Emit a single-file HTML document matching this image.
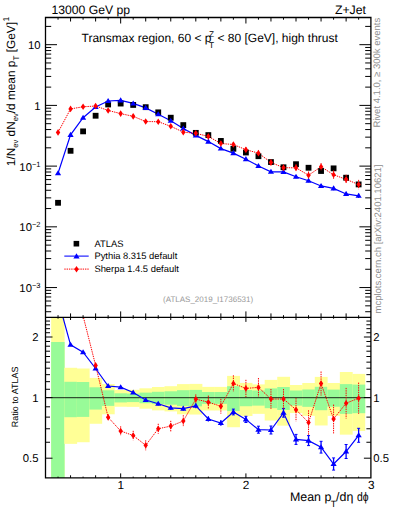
<!DOCTYPE html><html><head><meta charset="utf-8"><style>html,body{margin:0;padding:0;background:#fff;}svg{display:block;}text{font-family:"Liberation Sans",sans-serif;text-rendering:geometricPrecision;}</style></head><body>
<svg width="393" height="512" viewBox="0 0 393 512">
<defs><clipPath id="cm"><rect x="45.50" y="17.50" width="325.40" height="299.90"/></clipPath>
<clipPath id="cr"><rect x="45.50" y="317.40" width="325.40" height="160.50"/></clipPath></defs>
<g clip-path="url(#cr)">
<rect x="51.15" y="312.40" width="13.45" height="170.50" fill="#ffff96"/>
<rect x="51.15" y="342.00" width="13.45" height="140.90" fill="#98fb98"/>
<rect x="64.30" y="367.80" width="12.83" height="76.06" fill="#ffff96"/>
<rect x="64.30" y="381.80" width="12.83" height="35.40" fill="#98fb98"/>
<rect x="76.83" y="368.50" width="12.82" height="73.73" fill="#ffff96"/>
<rect x="76.83" y="382.00" width="12.82" height="34.90" fill="#98fb98"/>
<rect x="89.35" y="377.90" width="12.82" height="45.87" fill="#ffff96"/>
<rect x="89.35" y="387.30" width="12.82" height="22.28" fill="#98fb98"/>
<rect x="101.87" y="384.10" width="12.83" height="30.17" fill="#ffff96"/>
<rect x="101.87" y="390.30" width="12.83" height="15.57" fill="#98fb98"/>
<rect x="114.40" y="389.90" width="12.83" height="16.84" fill="#ffff96"/>
<rect x="114.40" y="393.30" width="12.83" height="9.12" fill="#98fb98"/>
<rect x="126.92" y="389.80" width="12.83" height="17.06" fill="#ffff96"/>
<rect x="126.92" y="393.60" width="12.83" height="8.49" fill="#98fb98"/>
<rect x="139.45" y="388.30" width="12.83" height="20.41" fill="#ffff96"/>
<rect x="139.45" y="392.60" width="12.83" height="10.60" fill="#98fb98"/>
<rect x="151.97" y="387.00" width="12.83" height="23.36" fill="#ffff96"/>
<rect x="151.97" y="391.80" width="12.83" height="12.31" fill="#98fb98"/>
<rect x="164.50" y="386.20" width="12.83" height="25.21" fill="#ffff96"/>
<rect x="164.50" y="391.30" width="12.83" height="13.39" fill="#98fb98"/>
<rect x="177.02" y="384.10" width="12.83" height="30.17" fill="#ffff96"/>
<rect x="177.02" y="390.20" width="12.83" height="15.78" fill="#98fb98"/>
<rect x="189.55" y="383.90" width="12.83" height="30.65" fill="#ffff96"/>
<rect x="189.55" y="389.90" width="12.83" height="16.44" fill="#98fb98"/>
<rect x="202.07" y="386.90" width="12.83" height="23.59" fill="#ffff96"/>
<rect x="202.07" y="392.00" width="12.83" height="11.88" fill="#98fb98"/>
<rect x="214.60" y="386.90" width="12.83" height="23.59" fill="#ffff96"/>
<rect x="214.60" y="392.00" width="12.83" height="11.88" fill="#98fb98"/>
<rect x="227.12" y="375.90" width="12.83" height="51.33" fill="#ffff96"/>
<rect x="227.12" y="386.20" width="12.83" height="24.81" fill="#98fb98"/>
<rect x="239.65" y="382.90" width="12.83" height="33.08" fill="#ffff96"/>
<rect x="239.65" y="390.00" width="12.83" height="16.22" fill="#98fb98"/>
<rect x="252.17" y="384.40" width="12.83" height="29.45" fill="#ffff96"/>
<rect x="252.17" y="390.50" width="12.83" height="15.13" fill="#98fb98"/>
<rect x="264.70" y="379.90" width="12.83" height="40.62" fill="#ffff96"/>
<rect x="264.70" y="388.40" width="12.83" height="19.78" fill="#98fb98"/>
<rect x="277.23" y="376.80" width="12.82" height="48.85" fill="#ffff96"/>
<rect x="277.23" y="387.00" width="12.82" height="22.96" fill="#98fb98"/>
<rect x="289.75" y="385.00" width="12.82" height="28.03" fill="#ffff96"/>
<rect x="289.75" y="390.50" width="12.82" height="15.13" fill="#98fb98"/>
<rect x="302.27" y="383.00" width="12.83" height="32.84" fill="#ffff96"/>
<rect x="302.27" y="389.50" width="12.83" height="17.33" fill="#98fb98"/>
<rect x="314.80" y="376.90" width="12.83" height="48.57" fill="#ffff96"/>
<rect x="314.80" y="386.80" width="12.83" height="23.42" fill="#98fb98"/>
<rect x="327.32" y="383.00" width="12.83" height="32.84" fill="#ffff96"/>
<rect x="327.32" y="389.60" width="12.83" height="17.11" fill="#98fb98"/>
<rect x="339.85" y="372.00" width="12.82" height="62.65" fill="#ffff96"/>
<rect x="339.85" y="384.10" width="12.82" height="29.77" fill="#98fb98"/>
<rect x="352.38" y="373.90" width="12.82" height="57.02" fill="#ffff96"/>
<rect x="352.38" y="384.60" width="12.82" height="28.58" fill="#98fb98"/>
</g>
<line x1="45.50" y1="397.60" x2="370.90" y2="397.60" stroke="#000" stroke-opacity="0.68" stroke-width="1.2"/>
<g><line x1="45.50" y1="311.72" x2="51.20" y2="311.72" stroke="#000" stroke-width="1.0"/><line x1="370.90" y1="311.72" x2="365.20" y2="311.72" stroke="#000" stroke-width="1.0"/><line x1="45.50" y1="305.84" x2="51.20" y2="305.84" stroke="#000" stroke-width="1.0"/><line x1="370.90" y1="305.84" x2="365.20" y2="305.84" stroke="#000" stroke-width="1.0"/><line x1="45.50" y1="301.03" x2="51.20" y2="301.03" stroke="#000" stroke-width="1.0"/><line x1="370.90" y1="301.03" x2="365.20" y2="301.03" stroke="#000" stroke-width="1.0"/><line x1="45.50" y1="296.97" x2="51.20" y2="296.97" stroke="#000" stroke-width="1.0"/><line x1="370.90" y1="296.97" x2="365.20" y2="296.97" stroke="#000" stroke-width="1.0"/><line x1="45.50" y1="293.44" x2="51.20" y2="293.44" stroke="#000" stroke-width="1.0"/><line x1="370.90" y1="293.44" x2="365.20" y2="293.44" stroke="#000" stroke-width="1.0"/><line x1="45.50" y1="290.34" x2="51.20" y2="290.34" stroke="#000" stroke-width="1.0"/><line x1="370.90" y1="290.34" x2="365.20" y2="290.34" stroke="#000" stroke-width="1.0"/><line x1="45.50" y1="287.56" x2="57.00" y2="287.56" stroke="#000" stroke-width="1.0"/><line x1="370.90" y1="287.56" x2="359.40" y2="287.56" stroke="#000" stroke-width="1.0"/><line x1="45.50" y1="269.28" x2="51.20" y2="269.28" stroke="#000" stroke-width="1.0"/><line x1="370.90" y1="269.28" x2="365.20" y2="269.28" stroke="#000" stroke-width="1.0"/><line x1="45.50" y1="258.59" x2="51.20" y2="258.59" stroke="#000" stroke-width="1.0"/><line x1="370.90" y1="258.59" x2="365.20" y2="258.59" stroke="#000" stroke-width="1.0"/><line x1="45.50" y1="251.00" x2="51.20" y2="251.00" stroke="#000" stroke-width="1.0"/><line x1="370.90" y1="251.00" x2="365.20" y2="251.00" stroke="#000" stroke-width="1.0"/><line x1="45.50" y1="245.12" x2="51.20" y2="245.12" stroke="#000" stroke-width="1.0"/><line x1="370.90" y1="245.12" x2="365.20" y2="245.12" stroke="#000" stroke-width="1.0"/><line x1="45.50" y1="240.31" x2="51.20" y2="240.31" stroke="#000" stroke-width="1.0"/><line x1="370.90" y1="240.31" x2="365.20" y2="240.31" stroke="#000" stroke-width="1.0"/><line x1="45.50" y1="236.25" x2="51.20" y2="236.25" stroke="#000" stroke-width="1.0"/><line x1="370.90" y1="236.25" x2="365.20" y2="236.25" stroke="#000" stroke-width="1.0"/><line x1="45.50" y1="232.72" x2="51.20" y2="232.72" stroke="#000" stroke-width="1.0"/><line x1="370.90" y1="232.72" x2="365.20" y2="232.72" stroke="#000" stroke-width="1.0"/><line x1="45.50" y1="229.62" x2="51.20" y2="229.62" stroke="#000" stroke-width="1.0"/><line x1="370.90" y1="229.62" x2="365.20" y2="229.62" stroke="#000" stroke-width="1.0"/><line x1="45.50" y1="226.84" x2="57.00" y2="226.84" stroke="#000" stroke-width="1.0"/><line x1="370.90" y1="226.84" x2="359.40" y2="226.84" stroke="#000" stroke-width="1.0"/><line x1="45.50" y1="208.56" x2="51.20" y2="208.56" stroke="#000" stroke-width="1.0"/><line x1="370.90" y1="208.56" x2="365.20" y2="208.56" stroke="#000" stroke-width="1.0"/><line x1="45.50" y1="197.87" x2="51.20" y2="197.87" stroke="#000" stroke-width="1.0"/><line x1="370.90" y1="197.87" x2="365.20" y2="197.87" stroke="#000" stroke-width="1.0"/><line x1="45.50" y1="190.28" x2="51.20" y2="190.28" stroke="#000" stroke-width="1.0"/><line x1="370.90" y1="190.28" x2="365.20" y2="190.28" stroke="#000" stroke-width="1.0"/><line x1="45.50" y1="184.40" x2="51.20" y2="184.40" stroke="#000" stroke-width="1.0"/><line x1="370.90" y1="184.40" x2="365.20" y2="184.40" stroke="#000" stroke-width="1.0"/><line x1="45.50" y1="179.59" x2="51.20" y2="179.59" stroke="#000" stroke-width="1.0"/><line x1="370.90" y1="179.59" x2="365.20" y2="179.59" stroke="#000" stroke-width="1.0"/><line x1="45.50" y1="175.53" x2="51.20" y2="175.53" stroke="#000" stroke-width="1.0"/><line x1="370.90" y1="175.53" x2="365.20" y2="175.53" stroke="#000" stroke-width="1.0"/><line x1="45.50" y1="172.00" x2="51.20" y2="172.00" stroke="#000" stroke-width="1.0"/><line x1="370.90" y1="172.00" x2="365.20" y2="172.00" stroke="#000" stroke-width="1.0"/><line x1="45.50" y1="168.90" x2="51.20" y2="168.90" stroke="#000" stroke-width="1.0"/><line x1="370.90" y1="168.90" x2="365.20" y2="168.90" stroke="#000" stroke-width="1.0"/><line x1="45.50" y1="166.12" x2="57.00" y2="166.12" stroke="#000" stroke-width="1.0"/><line x1="370.90" y1="166.12" x2="359.40" y2="166.12" stroke="#000" stroke-width="1.0"/><line x1="45.50" y1="147.84" x2="51.20" y2="147.84" stroke="#000" stroke-width="1.0"/><line x1="370.90" y1="147.84" x2="365.20" y2="147.84" stroke="#000" stroke-width="1.0"/><line x1="45.50" y1="137.15" x2="51.20" y2="137.15" stroke="#000" stroke-width="1.0"/><line x1="370.90" y1="137.15" x2="365.20" y2="137.15" stroke="#000" stroke-width="1.0"/><line x1="45.50" y1="129.56" x2="51.20" y2="129.56" stroke="#000" stroke-width="1.0"/><line x1="370.90" y1="129.56" x2="365.20" y2="129.56" stroke="#000" stroke-width="1.0"/><line x1="45.50" y1="123.68" x2="51.20" y2="123.68" stroke="#000" stroke-width="1.0"/><line x1="370.90" y1="123.68" x2="365.20" y2="123.68" stroke="#000" stroke-width="1.0"/><line x1="45.50" y1="118.87" x2="51.20" y2="118.87" stroke="#000" stroke-width="1.0"/><line x1="370.90" y1="118.87" x2="365.20" y2="118.87" stroke="#000" stroke-width="1.0"/><line x1="45.50" y1="114.81" x2="51.20" y2="114.81" stroke="#000" stroke-width="1.0"/><line x1="370.90" y1="114.81" x2="365.20" y2="114.81" stroke="#000" stroke-width="1.0"/><line x1="45.50" y1="111.28" x2="51.20" y2="111.28" stroke="#000" stroke-width="1.0"/><line x1="370.90" y1="111.28" x2="365.20" y2="111.28" stroke="#000" stroke-width="1.0"/><line x1="45.50" y1="108.18" x2="51.20" y2="108.18" stroke="#000" stroke-width="1.0"/><line x1="370.90" y1="108.18" x2="365.20" y2="108.18" stroke="#000" stroke-width="1.0"/><line x1="45.50" y1="105.40" x2="57.00" y2="105.40" stroke="#000" stroke-width="1.0"/><line x1="370.90" y1="105.40" x2="359.40" y2="105.40" stroke="#000" stroke-width="1.0"/><line x1="45.50" y1="87.12" x2="51.20" y2="87.12" stroke="#000" stroke-width="1.0"/><line x1="370.90" y1="87.12" x2="365.20" y2="87.12" stroke="#000" stroke-width="1.0"/><line x1="45.50" y1="76.43" x2="51.20" y2="76.43" stroke="#000" stroke-width="1.0"/><line x1="370.90" y1="76.43" x2="365.20" y2="76.43" stroke="#000" stroke-width="1.0"/><line x1="45.50" y1="68.84" x2="51.20" y2="68.84" stroke="#000" stroke-width="1.0"/><line x1="370.90" y1="68.84" x2="365.20" y2="68.84" stroke="#000" stroke-width="1.0"/><line x1="45.50" y1="62.96" x2="51.20" y2="62.96" stroke="#000" stroke-width="1.0"/><line x1="370.90" y1="62.96" x2="365.20" y2="62.96" stroke="#000" stroke-width="1.0"/><line x1="45.50" y1="58.15" x2="51.20" y2="58.15" stroke="#000" stroke-width="1.0"/><line x1="370.90" y1="58.15" x2="365.20" y2="58.15" stroke="#000" stroke-width="1.0"/><line x1="45.50" y1="54.09" x2="51.20" y2="54.09" stroke="#000" stroke-width="1.0"/><line x1="370.90" y1="54.09" x2="365.20" y2="54.09" stroke="#000" stroke-width="1.0"/><line x1="45.50" y1="50.56" x2="51.20" y2="50.56" stroke="#000" stroke-width="1.0"/><line x1="370.90" y1="50.56" x2="365.20" y2="50.56" stroke="#000" stroke-width="1.0"/><line x1="45.50" y1="47.46" x2="51.20" y2="47.46" stroke="#000" stroke-width="1.0"/><line x1="370.90" y1="47.46" x2="365.20" y2="47.46" stroke="#000" stroke-width="1.0"/><line x1="45.50" y1="44.68" x2="57.00" y2="44.68" stroke="#000" stroke-width="1.0"/><line x1="370.90" y1="44.68" x2="359.40" y2="44.68" stroke="#000" stroke-width="1.0"/><line x1="45.50" y1="26.40" x2="51.20" y2="26.40" stroke="#000" stroke-width="1.0"/><line x1="370.90" y1="26.40" x2="365.20" y2="26.40" stroke="#000" stroke-width="1.0"/><line x1="45.50" y1="458.20" x2="52.50" y2="458.20" stroke="#000" stroke-width="1.0"/><line x1="370.90" y1="458.20" x2="363.90" y2="458.20" stroke="#000" stroke-width="1.0"/><line x1="45.50" y1="442.26" x2="50.00" y2="442.26" stroke="#000" stroke-width="1.0"/><line x1="370.90" y1="442.26" x2="366.40" y2="442.26" stroke="#000" stroke-width="1.0"/><line x1="45.50" y1="428.78" x2="50.00" y2="428.78" stroke="#000" stroke-width="1.0"/><line x1="370.90" y1="428.78" x2="366.40" y2="428.78" stroke="#000" stroke-width="1.0"/><line x1="45.50" y1="417.11" x2="50.00" y2="417.11" stroke="#000" stroke-width="1.0"/><line x1="370.90" y1="417.11" x2="366.40" y2="417.11" stroke="#000" stroke-width="1.0"/><line x1="45.50" y1="406.81" x2="50.00" y2="406.81" stroke="#000" stroke-width="1.0"/><line x1="370.90" y1="406.81" x2="366.40" y2="406.81" stroke="#000" stroke-width="1.0"/><line x1="45.50" y1="397.60" x2="52.50" y2="397.60" stroke="#000" stroke-width="1.0"/><line x1="370.90" y1="397.60" x2="363.90" y2="397.60" stroke="#000" stroke-width="1.0"/><line x1="45.50" y1="389.27" x2="50.00" y2="389.27" stroke="#000" stroke-width="1.0"/><line x1="370.90" y1="389.27" x2="366.40" y2="389.27" stroke="#000" stroke-width="1.0"/><line x1="45.50" y1="381.66" x2="50.00" y2="381.66" stroke="#000" stroke-width="1.0"/><line x1="370.90" y1="381.66" x2="366.40" y2="381.66" stroke="#000" stroke-width="1.0"/><line x1="45.50" y1="374.66" x2="50.00" y2="374.66" stroke="#000" stroke-width="1.0"/><line x1="370.90" y1="374.66" x2="366.40" y2="374.66" stroke="#000" stroke-width="1.0"/><line x1="45.50" y1="368.18" x2="50.00" y2="368.18" stroke="#000" stroke-width="1.0"/><line x1="370.90" y1="368.18" x2="366.40" y2="368.18" stroke="#000" stroke-width="1.0"/><line x1="45.50" y1="362.15" x2="50.00" y2="362.15" stroke="#000" stroke-width="1.0"/><line x1="370.90" y1="362.15" x2="366.40" y2="362.15" stroke="#000" stroke-width="1.0"/><line x1="45.50" y1="356.51" x2="50.00" y2="356.51" stroke="#000" stroke-width="1.0"/><line x1="370.90" y1="356.51" x2="366.40" y2="356.51" stroke="#000" stroke-width="1.0"/><line x1="45.50" y1="351.21" x2="50.00" y2="351.21" stroke="#000" stroke-width="1.0"/><line x1="370.90" y1="351.21" x2="366.40" y2="351.21" stroke="#000" stroke-width="1.0"/><line x1="45.50" y1="346.21" x2="50.00" y2="346.21" stroke="#000" stroke-width="1.0"/><line x1="370.90" y1="346.21" x2="366.40" y2="346.21" stroke="#000" stroke-width="1.0"/><line x1="45.50" y1="341.48" x2="50.00" y2="341.48" stroke="#000" stroke-width="1.0"/><line x1="370.90" y1="341.48" x2="366.40" y2="341.48" stroke="#000" stroke-width="1.0"/><line x1="45.50" y1="337.00" x2="52.50" y2="337.00" stroke="#000" stroke-width="1.0"/><line x1="370.90" y1="337.00" x2="363.90" y2="337.00" stroke="#000" stroke-width="1.0"/><line x1="45.50" y1="332.73" x2="50.00" y2="332.73" stroke="#000" stroke-width="1.0"/><line x1="370.90" y1="332.73" x2="366.40" y2="332.73" stroke="#000" stroke-width="1.0"/><line x1="45.50" y1="328.67" x2="50.00" y2="328.67" stroke="#000" stroke-width="1.0"/><line x1="370.90" y1="328.67" x2="366.40" y2="328.67" stroke="#000" stroke-width="1.0"/><line x1="45.50" y1="324.78" x2="50.00" y2="324.78" stroke="#000" stroke-width="1.0"/><line x1="370.90" y1="324.78" x2="366.40" y2="324.78" stroke="#000" stroke-width="1.0"/><line x1="45.50" y1="321.06" x2="50.00" y2="321.06" stroke="#000" stroke-width="1.0"/><line x1="370.90" y1="321.06" x2="366.40" y2="321.06" stroke="#000" stroke-width="1.0"/><line x1="58.04" y1="17.50" x2="58.04" y2="19.70" stroke="#000" stroke-width="1.0"/><line x1="58.04" y1="317.40" x2="58.04" y2="315.20" stroke="#000" stroke-width="1.0"/><line x1="58.04" y1="317.40" x2="58.04" y2="318.70" stroke="#000" stroke-width="1.0"/><line x1="58.04" y1="477.90" x2="58.04" y2="476.60" stroke="#000" stroke-width="1.0"/><line x1="70.56" y1="17.50" x2="70.56" y2="21.50" stroke="#000" stroke-width="1.0"/><line x1="70.56" y1="317.40" x2="70.56" y2="313.40" stroke="#000" stroke-width="1.0"/><line x1="70.56" y1="317.40" x2="70.56" y2="320.00" stroke="#000" stroke-width="1.0"/><line x1="70.56" y1="477.90" x2="70.56" y2="475.30" stroke="#000" stroke-width="1.0"/><line x1="83.09" y1="17.50" x2="83.09" y2="19.70" stroke="#000" stroke-width="1.0"/><line x1="83.09" y1="317.40" x2="83.09" y2="315.20" stroke="#000" stroke-width="1.0"/><line x1="83.09" y1="317.40" x2="83.09" y2="318.70" stroke="#000" stroke-width="1.0"/><line x1="83.09" y1="477.90" x2="83.09" y2="476.60" stroke="#000" stroke-width="1.0"/><line x1="95.61" y1="17.50" x2="95.61" y2="21.50" stroke="#000" stroke-width="1.0"/><line x1="95.61" y1="317.40" x2="95.61" y2="313.40" stroke="#000" stroke-width="1.0"/><line x1="95.61" y1="317.40" x2="95.61" y2="320.00" stroke="#000" stroke-width="1.0"/><line x1="95.61" y1="477.90" x2="95.61" y2="475.30" stroke="#000" stroke-width="1.0"/><line x1="108.14" y1="17.50" x2="108.14" y2="19.70" stroke="#000" stroke-width="1.0"/><line x1="108.14" y1="317.40" x2="108.14" y2="315.20" stroke="#000" stroke-width="1.0"/><line x1="108.14" y1="317.40" x2="108.14" y2="318.70" stroke="#000" stroke-width="1.0"/><line x1="108.14" y1="477.90" x2="108.14" y2="476.60" stroke="#000" stroke-width="1.0"/><line x1="120.66" y1="17.50" x2="120.66" y2="23.50" stroke="#000" stroke-width="1.0"/><line x1="120.66" y1="317.40" x2="120.66" y2="311.40" stroke="#000" stroke-width="1.0"/><line x1="120.66" y1="317.40" x2="120.66" y2="321.90" stroke="#000" stroke-width="1.0"/><line x1="120.66" y1="477.90" x2="120.66" y2="473.40" stroke="#000" stroke-width="1.0"/><line x1="133.19" y1="17.50" x2="133.19" y2="19.70" stroke="#000" stroke-width="1.0"/><line x1="133.19" y1="317.40" x2="133.19" y2="315.20" stroke="#000" stroke-width="1.0"/><line x1="133.19" y1="317.40" x2="133.19" y2="318.70" stroke="#000" stroke-width="1.0"/><line x1="133.19" y1="477.90" x2="133.19" y2="476.60" stroke="#000" stroke-width="1.0"/><line x1="145.71" y1="17.50" x2="145.71" y2="21.50" stroke="#000" stroke-width="1.0"/><line x1="145.71" y1="317.40" x2="145.71" y2="313.40" stroke="#000" stroke-width="1.0"/><line x1="145.71" y1="317.40" x2="145.71" y2="320.00" stroke="#000" stroke-width="1.0"/><line x1="145.71" y1="477.90" x2="145.71" y2="475.30" stroke="#000" stroke-width="1.0"/><line x1="158.24" y1="17.50" x2="158.24" y2="19.70" stroke="#000" stroke-width="1.0"/><line x1="158.24" y1="317.40" x2="158.24" y2="315.20" stroke="#000" stroke-width="1.0"/><line x1="158.24" y1="317.40" x2="158.24" y2="318.70" stroke="#000" stroke-width="1.0"/><line x1="158.24" y1="477.90" x2="158.24" y2="476.60" stroke="#000" stroke-width="1.0"/><line x1="170.76" y1="17.50" x2="170.76" y2="21.50" stroke="#000" stroke-width="1.0"/><line x1="170.76" y1="317.40" x2="170.76" y2="313.40" stroke="#000" stroke-width="1.0"/><line x1="170.76" y1="317.40" x2="170.76" y2="320.00" stroke="#000" stroke-width="1.0"/><line x1="170.76" y1="477.90" x2="170.76" y2="475.30" stroke="#000" stroke-width="1.0"/><line x1="183.29" y1="17.50" x2="183.29" y2="19.70" stroke="#000" stroke-width="1.0"/><line x1="183.29" y1="317.40" x2="183.29" y2="315.20" stroke="#000" stroke-width="1.0"/><line x1="183.29" y1="317.40" x2="183.29" y2="318.70" stroke="#000" stroke-width="1.0"/><line x1="183.29" y1="477.90" x2="183.29" y2="476.60" stroke="#000" stroke-width="1.0"/><line x1="195.81" y1="17.50" x2="195.81" y2="21.50" stroke="#000" stroke-width="1.0"/><line x1="195.81" y1="317.40" x2="195.81" y2="313.40" stroke="#000" stroke-width="1.0"/><line x1="195.81" y1="317.40" x2="195.81" y2="320.00" stroke="#000" stroke-width="1.0"/><line x1="195.81" y1="477.90" x2="195.81" y2="475.30" stroke="#000" stroke-width="1.0"/><line x1="208.34" y1="17.50" x2="208.34" y2="19.70" stroke="#000" stroke-width="1.0"/><line x1="208.34" y1="317.40" x2="208.34" y2="315.20" stroke="#000" stroke-width="1.0"/><line x1="208.34" y1="317.40" x2="208.34" y2="318.70" stroke="#000" stroke-width="1.0"/><line x1="208.34" y1="477.90" x2="208.34" y2="476.60" stroke="#000" stroke-width="1.0"/><line x1="220.86" y1="17.50" x2="220.86" y2="21.50" stroke="#000" stroke-width="1.0"/><line x1="220.86" y1="317.40" x2="220.86" y2="313.40" stroke="#000" stroke-width="1.0"/><line x1="220.86" y1="317.40" x2="220.86" y2="320.00" stroke="#000" stroke-width="1.0"/><line x1="220.86" y1="477.90" x2="220.86" y2="475.30" stroke="#000" stroke-width="1.0"/><line x1="233.39" y1="17.50" x2="233.39" y2="19.70" stroke="#000" stroke-width="1.0"/><line x1="233.39" y1="317.40" x2="233.39" y2="315.20" stroke="#000" stroke-width="1.0"/><line x1="233.39" y1="317.40" x2="233.39" y2="318.70" stroke="#000" stroke-width="1.0"/><line x1="233.39" y1="477.90" x2="233.39" y2="476.60" stroke="#000" stroke-width="1.0"/><line x1="245.91" y1="17.50" x2="245.91" y2="23.50" stroke="#000" stroke-width="1.0"/><line x1="245.91" y1="317.40" x2="245.91" y2="311.40" stroke="#000" stroke-width="1.0"/><line x1="245.91" y1="317.40" x2="245.91" y2="321.90" stroke="#000" stroke-width="1.0"/><line x1="245.91" y1="477.90" x2="245.91" y2="473.40" stroke="#000" stroke-width="1.0"/><line x1="258.44" y1="17.50" x2="258.44" y2="19.70" stroke="#000" stroke-width="1.0"/><line x1="258.44" y1="317.40" x2="258.44" y2="315.20" stroke="#000" stroke-width="1.0"/><line x1="258.44" y1="317.40" x2="258.44" y2="318.70" stroke="#000" stroke-width="1.0"/><line x1="258.44" y1="477.90" x2="258.44" y2="476.60" stroke="#000" stroke-width="1.0"/><line x1="270.96" y1="17.50" x2="270.96" y2="21.50" stroke="#000" stroke-width="1.0"/><line x1="270.96" y1="317.40" x2="270.96" y2="313.40" stroke="#000" stroke-width="1.0"/><line x1="270.96" y1="317.40" x2="270.96" y2="320.00" stroke="#000" stroke-width="1.0"/><line x1="270.96" y1="477.90" x2="270.96" y2="475.30" stroke="#000" stroke-width="1.0"/><line x1="283.49" y1="17.50" x2="283.49" y2="19.70" stroke="#000" stroke-width="1.0"/><line x1="283.49" y1="317.40" x2="283.49" y2="315.20" stroke="#000" stroke-width="1.0"/><line x1="283.49" y1="317.40" x2="283.49" y2="318.70" stroke="#000" stroke-width="1.0"/><line x1="283.49" y1="477.90" x2="283.49" y2="476.60" stroke="#000" stroke-width="1.0"/><line x1="296.01" y1="17.50" x2="296.01" y2="21.50" stroke="#000" stroke-width="1.0"/><line x1="296.01" y1="317.40" x2="296.01" y2="313.40" stroke="#000" stroke-width="1.0"/><line x1="296.01" y1="317.40" x2="296.01" y2="320.00" stroke="#000" stroke-width="1.0"/><line x1="296.01" y1="477.90" x2="296.01" y2="475.30" stroke="#000" stroke-width="1.0"/><line x1="308.54" y1="17.50" x2="308.54" y2="19.70" stroke="#000" stroke-width="1.0"/><line x1="308.54" y1="317.40" x2="308.54" y2="315.20" stroke="#000" stroke-width="1.0"/><line x1="308.54" y1="317.40" x2="308.54" y2="318.70" stroke="#000" stroke-width="1.0"/><line x1="308.54" y1="477.90" x2="308.54" y2="476.60" stroke="#000" stroke-width="1.0"/><line x1="321.06" y1="17.50" x2="321.06" y2="21.50" stroke="#000" stroke-width="1.0"/><line x1="321.06" y1="317.40" x2="321.06" y2="313.40" stroke="#000" stroke-width="1.0"/><line x1="321.06" y1="317.40" x2="321.06" y2="320.00" stroke="#000" stroke-width="1.0"/><line x1="321.06" y1="477.90" x2="321.06" y2="475.30" stroke="#000" stroke-width="1.0"/><line x1="333.59" y1="17.50" x2="333.59" y2="19.70" stroke="#000" stroke-width="1.0"/><line x1="333.59" y1="317.40" x2="333.59" y2="315.20" stroke="#000" stroke-width="1.0"/><line x1="333.59" y1="317.40" x2="333.59" y2="318.70" stroke="#000" stroke-width="1.0"/><line x1="333.59" y1="477.90" x2="333.59" y2="476.60" stroke="#000" stroke-width="1.0"/><line x1="346.11" y1="17.50" x2="346.11" y2="21.50" stroke="#000" stroke-width="1.0"/><line x1="346.11" y1="317.40" x2="346.11" y2="313.40" stroke="#000" stroke-width="1.0"/><line x1="346.11" y1="317.40" x2="346.11" y2="320.00" stroke="#000" stroke-width="1.0"/><line x1="346.11" y1="477.90" x2="346.11" y2="475.30" stroke="#000" stroke-width="1.0"/><line x1="358.64" y1="17.50" x2="358.64" y2="19.70" stroke="#000" stroke-width="1.0"/><line x1="358.64" y1="317.40" x2="358.64" y2="315.20" stroke="#000" stroke-width="1.0"/><line x1="358.64" y1="317.40" x2="358.64" y2="318.70" stroke="#000" stroke-width="1.0"/><line x1="358.64" y1="477.90" x2="358.64" y2="476.60" stroke="#000" stroke-width="1.0"/></g>
<g clip-path="url(#cm)">
<polyline points="58.04,173.30 70.56,134.89 83.09,117.73 95.61,107.05 108.14,100.99 120.66,100.42 133.19,103.43 145.71,107.90 158.24,114.23 170.76,120.71 183.29,128.45 195.81,135.35 208.34,141.60 220.86,148.58 233.39,153.11 245.91,159.16 258.44,165.94 270.96,171.83 283.49,171.91 296.01,176.78 308.54,180.73 321.06,185.95 333.59,188.36 346.11,193.96 358.64,195.81" fill="none" stroke="#0000ff" stroke-width="1.2"/>
<polyline points="58.04,132.40 70.56,108.90 83.09,106.80 95.61,106.01 108.14,110.43 120.66,113.62 133.19,116.34 145.71,121.53 158.24,121.72 170.76,126.29 183.29,132.15 195.81,133.30 208.34,136.41 220.86,143.50 233.39,144.52 245.91,149.71 258.44,153.14 270.96,162.43 283.49,167.71 296.01,167.83 308.54,175.21 321.06,166.74 333.59,174.79 346.11,179.33 358.64,184.57" fill="none" stroke="#ff0000" stroke-width="1" stroke-dasharray="1.4,0.9"/>
<rect x="55.14" y="199.90" width="5.80" height="5.80" fill="#000"/>
<rect x="67.66" y="147.91" width="5.80" height="5.80" fill="#000"/>
<rect x="80.19" y="128.47" width="5.80" height="5.80" fill="#000"/>
<rect x="92.71" y="112.84" width="5.80" height="5.80" fill="#000"/>
<rect x="105.24" y="101.58" width="5.80" height="5.80" fill="#000"/>
<rect x="117.76" y="100.66" width="5.80" height="5.80" fill="#000"/>
<rect x="130.29" y="102.04" width="5.80" height="5.80" fill="#000"/>
<rect x="142.81" y="104.27" width="5.80" height="5.80" fill="#000"/>
<rect x="155.34" y="109.45" width="5.80" height="5.80" fill="#000"/>
<rect x="167.86" y="114.80" width="5.80" height="5.80" fill="#000"/>
<rect x="180.39" y="122.20" width="5.80" height="5.80" fill="#000"/>
<rect x="192.91" y="129.96" width="5.80" height="5.80" fill="#000"/>
<rect x="205.44" y="132.18" width="5.80" height="5.80" fill="#000"/>
<rect x="217.96" y="138.02" width="5.80" height="5.80" fill="#000"/>
<rect x="230.49" y="145.87" width="5.80" height="5.80" fill="#000"/>
<rect x="243.01" y="149.62" width="5.80" height="5.80" fill="#000"/>
<rect x="255.54" y="153.32" width="5.80" height="5.80" fill="#000"/>
<rect x="268.06" y="159.15" width="5.80" height="5.80" fill="#000"/>
<rect x="280.59" y="164.38" width="5.80" height="5.80" fill="#000"/>
<rect x="293.11" y="161.29" width="5.80" height="5.80" fill="#000"/>
<rect x="305.64" y="164.85" width="5.80" height="5.80" fill="#000"/>
<rect x="318.16" y="168.11" width="5.80" height="5.80" fill="#000"/>
<rect x="330.69" y="165.46" width="5.80" height="5.80" fill="#000"/>
<rect x="343.21" y="174.80" width="5.80" height="5.80" fill="#000"/>
<rect x="355.74" y="181.52" width="5.80" height="5.80" fill="#000"/>
<path d="M58.04,170.25 L61.14,175.33 L54.94,175.33 Z" fill="#0000ff"/>
<path d="M70.56,131.84 L73.66,136.93 L67.46,136.93 Z" fill="#0000ff"/>
<path d="M83.09,114.68 L86.19,119.76 L79.99,119.76 Z" fill="#0000ff"/>
<path d="M95.61,104.00 L98.71,109.09 L92.51,109.09 Z" fill="#0000ff"/>
<path d="M108.14,97.94 L111.24,103.02 L105.04,103.02 Z" fill="#0000ff"/>
<path d="M120.66,97.37 L123.76,102.45 L117.56,102.45 Z" fill="#0000ff"/>
<path d="M133.19,100.38 L136.29,105.46 L130.09,105.46 Z" fill="#0000ff"/>
<path d="M145.71,104.84 L148.81,109.93 L142.61,109.93 Z" fill="#0000ff"/>
<path d="M158.24,111.17 L161.34,116.26 L155.14,116.26 Z" fill="#0000ff"/>
<path d="M170.76,117.66 L173.86,122.75 L167.66,122.75 Z" fill="#0000ff"/>
<path d="M183.29,125.40 L186.39,130.48 L180.19,130.48 Z" fill="#0000ff"/>
<path d="M195.81,132.29 L198.91,137.38 L192.71,137.38 Z" fill="#0000ff"/>
<path d="M208.34,138.55 L211.44,143.64 L205.24,143.64 Z" fill="#0000ff"/>
<line x1="220.86" y1="147.74" x2="220.86" y2="149.42" stroke="#0000ff" stroke-width="1.2"/>
<path d="M220.86,145.53 L223.96,150.61 L217.76,150.61 Z" fill="#0000ff"/>
<line x1="233.39" y1="152.24" x2="233.39" y2="153.98" stroke="#0000ff" stroke-width="1.2"/>
<path d="M233.39,150.06 L236.49,155.14 L230.29,155.14 Z" fill="#0000ff"/>
<line x1="245.91" y1="158.23" x2="245.91" y2="160.10" stroke="#0000ff" stroke-width="1.2"/>
<path d="M245.91,156.11 L249.01,161.20 L242.81,161.20 Z" fill="#0000ff"/>
<line x1="258.44" y1="164.89" x2="258.44" y2="167.00" stroke="#0000ff" stroke-width="1.2"/>
<path d="M258.44,162.89 L261.54,167.98 L255.34,167.98 Z" fill="#0000ff"/>
<line x1="270.96" y1="170.63" x2="270.96" y2="173.03" stroke="#0000ff" stroke-width="1.2"/>
<path d="M270.96,168.78 L274.06,173.86 L267.86,173.86 Z" fill="#0000ff"/>
<line x1="283.49" y1="170.60" x2="283.49" y2="173.22" stroke="#0000ff" stroke-width="1.2"/>
<path d="M283.49,168.86 L286.59,173.95 L280.39,173.95 Z" fill="#0000ff"/>
<line x1="296.01" y1="175.28" x2="296.01" y2="178.29" stroke="#0000ff" stroke-width="1.2"/>
<path d="M296.01,173.73 L299.11,178.82 L292.91,178.82 Z" fill="#0000ff"/>
<line x1="308.54" y1="179.23" x2="308.54" y2="182.24" stroke="#0000ff" stroke-width="1.2"/>
<path d="M308.54,177.68 L311.64,182.77 L305.44,182.77 Z" fill="#0000ff"/>
<line x1="321.06" y1="184.18" x2="321.06" y2="187.73" stroke="#0000ff" stroke-width="1.2"/>
<path d="M321.06,182.90 L324.16,187.99 L317.96,187.99 Z" fill="#0000ff"/>
<line x1="333.59" y1="186.52" x2="333.59" y2="190.19" stroke="#0000ff" stroke-width="1.2"/>
<path d="M333.59,185.30 L336.69,190.39 L330.49,190.39 Z" fill="#0000ff"/>
<line x1="346.11" y1="191.86" x2="346.11" y2="196.07" stroke="#0000ff" stroke-width="1.2"/>
<path d="M346.11,190.91 L349.21,196.00 L343.01,196.00 Z" fill="#0000ff"/>
<line x1="358.64" y1="193.71" x2="358.64" y2="197.92" stroke="#0000ff" stroke-width="1.2"/>
<path d="M358.64,192.76 L361.74,197.85 L355.54,197.85 Z" fill="#0000ff"/>
<path d="M58.04,129.10 L60.24,132.40 L58.04,135.70 L55.84,132.40 Z" fill="#ff0000"/>
<path d="M70.56,105.60 L72.76,108.90 L70.56,112.20 L68.36,108.90 Z" fill="#ff0000"/>
<path d="M83.09,103.50 L85.29,106.80 L83.09,110.10 L80.89,106.80 Z" fill="#ff0000"/>
<path d="M95.61,102.71 L97.81,106.01 L95.61,109.31 L93.41,106.01 Z" fill="#ff0000"/>
<path d="M108.14,107.13 L110.34,110.43 L108.14,113.73 L105.94,110.43 Z" fill="#ff0000"/>
<line x1="120.66" y1="112.21" x2="120.66" y2="115.04" stroke="#ff0000" stroke-width="1" stroke-dasharray="1.4,0.9"/>
<path d="M120.66,110.32 L122.86,113.62 L120.66,116.92 L118.46,113.62 Z" fill="#ff0000"/>
<line x1="133.19" y1="114.92" x2="133.19" y2="117.75" stroke="#ff0000" stroke-width="1" stroke-dasharray="1.4,0.9"/>
<path d="M133.19,113.04 L135.39,116.34 L133.19,119.64 L130.99,116.34 Z" fill="#ff0000"/>
<line x1="145.71" y1="120.03" x2="145.71" y2="123.04" stroke="#ff0000" stroke-width="1" stroke-dasharray="1.4,0.9"/>
<path d="M145.71,118.23 L147.91,121.53 L145.71,124.83 L143.51,121.53 Z" fill="#ff0000"/>
<line x1="158.24" y1="120.22" x2="158.24" y2="123.23" stroke="#ff0000" stroke-width="1" stroke-dasharray="1.4,0.9"/>
<path d="M158.24,118.42 L160.44,121.72 L158.24,125.02 L156.04,121.72 Z" fill="#ff0000"/>
<line x1="170.76" y1="124.69" x2="170.76" y2="127.88" stroke="#ff0000" stroke-width="1" stroke-dasharray="1.4,0.9"/>
<path d="M170.76,122.99 L172.96,126.29 L170.76,129.59 L168.56,126.29 Z" fill="#ff0000"/>
<line x1="183.29" y1="130.41" x2="183.29" y2="133.90" stroke="#ff0000" stroke-width="1" stroke-dasharray="1.4,0.9"/>
<path d="M183.29,128.85 L185.49,132.15 L183.29,135.45 L181.09,132.15 Z" fill="#ff0000"/>
<line x1="195.81" y1="131.88" x2="195.81" y2="134.71" stroke="#ff0000" stroke-width="1" stroke-dasharray="1.4,0.9"/>
<path d="M195.81,130.00 L198.01,133.30 L195.81,136.60 L193.61,133.30 Z" fill="#ff0000"/>
<line x1="208.34" y1="134.43" x2="208.34" y2="138.40" stroke="#ff0000" stroke-width="1" stroke-dasharray="1.4,0.9"/>
<path d="M208.34,133.11 L210.54,136.41 L208.34,139.71 L206.14,136.41 Z" fill="#ff0000"/>
<line x1="220.86" y1="141.27" x2="220.86" y2="145.73" stroke="#ff0000" stroke-width="1" stroke-dasharray="1.4,0.9"/>
<path d="M220.86,140.20 L223.06,143.50 L220.86,146.80 L218.66,143.50 Z" fill="#ff0000"/>
<line x1="233.39" y1="142.05" x2="233.39" y2="146.99" stroke="#ff0000" stroke-width="1" stroke-dasharray="1.4,0.9"/>
<path d="M233.39,141.22 L235.59,144.52 L233.39,147.82 L231.19,144.52 Z" fill="#ff0000"/>
<line x1="245.91" y1="147.13" x2="245.91" y2="152.30" stroke="#ff0000" stroke-width="1" stroke-dasharray="1.4,0.9"/>
<path d="M245.91,146.41 L248.11,149.71 L245.91,153.01 L243.71,149.71 Z" fill="#ff0000"/>
<line x1="258.44" y1="150.31" x2="258.44" y2="155.97" stroke="#ff0000" stroke-width="1" stroke-dasharray="1.4,0.9"/>
<path d="M258.44,149.84 L260.64,153.14 L258.44,156.44 L256.24,153.14 Z" fill="#ff0000"/>
<line x1="270.96" y1="159.42" x2="270.96" y2="165.43" stroke="#ff0000" stroke-width="1" stroke-dasharray="1.4,0.9"/>
<path d="M270.96,159.13 L273.16,162.43 L270.96,165.73 L268.76,162.43 Z" fill="#ff0000"/>
<line x1="283.49" y1="164.70" x2="283.49" y2="170.72" stroke="#ff0000" stroke-width="1" stroke-dasharray="1.4,0.9"/>
<path d="M283.49,164.41 L285.69,167.71 L283.49,171.01 L281.29,167.71 Z" fill="#ff0000"/>
<line x1="296.01" y1="164.34" x2="296.01" y2="171.32" stroke="#ff0000" stroke-width="1" stroke-dasharray="1.4,0.9"/>
<path d="M296.01,164.53 L298.21,167.83 L296.01,171.13 L293.81,167.83 Z" fill="#ff0000"/>
<line x1="308.54" y1="171.54" x2="308.54" y2="178.89" stroke="#ff0000" stroke-width="1" stroke-dasharray="1.4,0.9"/>
<path d="M308.54,171.91 L310.74,175.21 L308.54,178.51 L306.34,175.21 Z" fill="#ff0000"/>
<line x1="321.06" y1="163.13" x2="321.06" y2="170.35" stroke="#ff0000" stroke-width="1" stroke-dasharray="1.4,0.9"/>
<path d="M321.06,163.44 L323.26,166.74 L321.06,170.04 L318.86,166.74 Z" fill="#ff0000"/>
<line x1="333.59" y1="170.45" x2="333.59" y2="179.12" stroke="#ff0000" stroke-width="1" stroke-dasharray="1.4,0.9"/>
<path d="M333.59,171.49 L335.79,174.79 L333.59,178.09 L331.39,174.79 Z" fill="#ff0000"/>
<line x1="346.11" y1="174.73" x2="346.11" y2="183.94" stroke="#ff0000" stroke-width="1" stroke-dasharray="1.4,0.9"/>
<path d="M346.11,176.03 L348.31,179.33 L346.11,182.63 L343.91,179.33 Z" fill="#ff0000"/>
<line x1="358.64" y1="179.87" x2="358.64" y2="189.26" stroke="#ff0000" stroke-width="1" stroke-dasharray="1.4,0.9"/>
<path d="M358.64,181.27 L360.84,184.57 L358.64,187.87 L356.44,184.57 Z" fill="#ff0000"/>
</g>
<g clip-path="url(#cr)">
<polyline points="58.04,299.55 70.56,344.80 83.09,352.20 95.61,368.50 108.14,386.00 120.66,387.20 133.19,392.50 145.71,400.00 158.24,403.75 170.76,407.80 183.29,408.60 195.81,405.80 208.34,419.00 220.86,423.00 233.39,412.00 245.91,419.40 258.44,429.70 270.96,430.00 283.49,412.80 296.01,439.40 308.54,440.60 321.06,447.20 333.59,464.00 346.11,451.50 358.64,435.30" fill="none" stroke="#0000ff" stroke-width="1.2"/>
<polyline points="58.04,163.62 70.56,258.32 83.09,315.94 95.61,365.40 108.14,417.30 120.66,431.00 133.19,435.50 145.71,445.30 158.24,428.75 170.76,426.10 183.29,421.00 195.81,399.10 208.34,402.20 220.86,406.25 233.39,383.50 245.91,388.40 258.44,387.40 270.96,399.00 283.49,399.00 296.01,409.70 308.54,422.50 321.06,383.50 333.59,419.00 346.11,403.20 358.64,398.20" fill="none" stroke="#ff0000" stroke-width="1" stroke-dasharray="1.4,0.9"/>
<line x1="70.56" y1="343.60" x2="70.56" y2="346.00" stroke="#0000ff" stroke-width="1.3"/>
<path d="M70.56,341.75 L73.66,346.83 L67.46,346.83 Z" fill="#0000ff"/>
<line x1="83.09" y1="351.00" x2="83.09" y2="353.40" stroke="#0000ff" stroke-width="1.3"/>
<path d="M83.09,349.15 L86.19,354.23 L79.99,354.23 Z" fill="#0000ff"/>
<line x1="95.61" y1="367.20" x2="95.61" y2="369.80" stroke="#0000ff" stroke-width="1.3"/>
<path d="M95.61,365.45 L98.71,370.53 L92.51,370.53 Z" fill="#0000ff"/>
<line x1="108.14" y1="384.60" x2="108.14" y2="387.40" stroke="#0000ff" stroke-width="1.3"/>
<path d="M108.14,382.95 L111.24,388.03 L105.04,388.03 Z" fill="#0000ff"/>
<line x1="120.66" y1="385.70" x2="120.66" y2="388.70" stroke="#0000ff" stroke-width="1.3"/>
<path d="M120.66,384.15 L123.76,389.23 L117.56,389.23 Z" fill="#0000ff"/>
<line x1="133.19" y1="390.90" x2="133.19" y2="394.10" stroke="#0000ff" stroke-width="1.3"/>
<path d="M133.19,389.45 L136.29,394.53 L130.09,394.53 Z" fill="#0000ff"/>
<line x1="145.71" y1="398.30" x2="145.71" y2="401.70" stroke="#0000ff" stroke-width="1.3"/>
<path d="M145.71,396.95 L148.81,402.03 L142.61,402.03 Z" fill="#0000ff"/>
<line x1="158.24" y1="401.95" x2="158.24" y2="405.55" stroke="#0000ff" stroke-width="1.3"/>
<path d="M158.24,400.70 L161.34,405.78 L155.14,405.78 Z" fill="#0000ff"/>
<line x1="170.76" y1="405.80" x2="170.76" y2="409.80" stroke="#0000ff" stroke-width="1.3"/>
<path d="M170.76,404.75 L173.86,409.83 L167.66,409.83 Z" fill="#0000ff"/>
<line x1="183.29" y1="406.40" x2="183.29" y2="410.80" stroke="#0000ff" stroke-width="1.3"/>
<path d="M183.29,405.55 L186.39,410.63 L180.19,410.63 Z" fill="#0000ff"/>
<line x1="195.81" y1="403.40" x2="195.81" y2="408.20" stroke="#0000ff" stroke-width="1.3"/>
<path d="M195.81,402.75 L198.91,407.83 L192.71,407.83 Z" fill="#0000ff"/>
<line x1="208.34" y1="416.40" x2="208.34" y2="421.60" stroke="#0000ff" stroke-width="1.3"/>
<path d="M208.34,415.95 L211.44,421.03 L205.24,421.03 Z" fill="#0000ff"/>
<line x1="220.86" y1="420.20" x2="220.86" y2="425.80" stroke="#0000ff" stroke-width="1.3"/>
<path d="M220.86,419.95 L223.96,425.03 L217.76,425.03 Z" fill="#0000ff"/>
<line x1="233.39" y1="409.10" x2="233.39" y2="414.90" stroke="#0000ff" stroke-width="1.3"/>
<line x1="231.89" y1="409.10" x2="234.89" y2="409.10" stroke="#0000ff" stroke-width="1"/>
<line x1="231.89" y1="414.90" x2="234.89" y2="414.90" stroke="#0000ff" stroke-width="1"/>
<path d="M233.39,408.95 L236.49,414.03 L230.29,414.03 Z" fill="#0000ff"/>
<line x1="245.91" y1="416.30" x2="245.91" y2="422.50" stroke="#0000ff" stroke-width="1.3"/>
<line x1="244.41" y1="416.30" x2="247.41" y2="416.30" stroke="#0000ff" stroke-width="1"/>
<line x1="244.41" y1="422.50" x2="247.41" y2="422.50" stroke="#0000ff" stroke-width="1"/>
<path d="M245.91,416.35 L249.01,421.43 L242.81,421.43 Z" fill="#0000ff"/>
<line x1="258.44" y1="426.20" x2="258.44" y2="433.20" stroke="#0000ff" stroke-width="1.3"/>
<line x1="256.94" y1="426.20" x2="259.94" y2="426.20" stroke="#0000ff" stroke-width="1"/>
<line x1="256.94" y1="433.20" x2="259.94" y2="433.20" stroke="#0000ff" stroke-width="1"/>
<path d="M258.44,426.65 L261.54,431.73 L255.34,431.73 Z" fill="#0000ff"/>
<line x1="270.96" y1="426.00" x2="270.96" y2="434.00" stroke="#0000ff" stroke-width="1.3"/>
<line x1="269.46" y1="426.00" x2="272.46" y2="426.00" stroke="#0000ff" stroke-width="1"/>
<line x1="269.46" y1="434.00" x2="272.46" y2="434.00" stroke="#0000ff" stroke-width="1"/>
<path d="M270.96,426.95 L274.06,432.03 L267.86,432.03 Z" fill="#0000ff"/>
<line x1="283.49" y1="408.45" x2="283.49" y2="417.15" stroke="#0000ff" stroke-width="1.3"/>
<line x1="281.99" y1="408.45" x2="284.99" y2="408.45" stroke="#0000ff" stroke-width="1"/>
<line x1="281.99" y1="417.15" x2="284.99" y2="417.15" stroke="#0000ff" stroke-width="1"/>
<path d="M283.49,409.75 L286.59,414.83 L280.39,414.83 Z" fill="#0000ff"/>
<line x1="296.01" y1="434.40" x2="296.01" y2="444.40" stroke="#0000ff" stroke-width="1.3"/>
<line x1="294.51" y1="434.40" x2="297.51" y2="434.40" stroke="#0000ff" stroke-width="1"/>
<line x1="294.51" y1="444.40" x2="297.51" y2="444.40" stroke="#0000ff" stroke-width="1"/>
<path d="M296.01,436.35 L299.11,441.43 L292.91,441.43 Z" fill="#0000ff"/>
<line x1="308.54" y1="435.60" x2="308.54" y2="445.60" stroke="#0000ff" stroke-width="1.3"/>
<line x1="307.04" y1="435.60" x2="310.04" y2="435.60" stroke="#0000ff" stroke-width="1"/>
<line x1="307.04" y1="445.60" x2="310.04" y2="445.60" stroke="#0000ff" stroke-width="1"/>
<path d="M308.54,437.55 L311.64,442.63 L305.44,442.63 Z" fill="#0000ff"/>
<line x1="321.06" y1="441.30" x2="321.06" y2="453.10" stroke="#0000ff" stroke-width="1.3"/>
<line x1="319.56" y1="441.30" x2="322.56" y2="441.30" stroke="#0000ff" stroke-width="1"/>
<line x1="319.56" y1="453.10" x2="322.56" y2="453.10" stroke="#0000ff" stroke-width="1"/>
<path d="M321.06,444.15 L324.16,449.23 L317.96,449.23 Z" fill="#0000ff"/>
<line x1="333.59" y1="457.90" x2="333.59" y2="470.10" stroke="#0000ff" stroke-width="1.3"/>
<line x1="332.09" y1="457.90" x2="335.09" y2="457.90" stroke="#0000ff" stroke-width="1"/>
<line x1="332.09" y1="470.10" x2="335.09" y2="470.10" stroke="#0000ff" stroke-width="1"/>
<path d="M333.59,460.95 L336.69,466.03 L330.49,466.03 Z" fill="#0000ff"/>
<line x1="346.11" y1="444.50" x2="346.11" y2="458.50" stroke="#0000ff" stroke-width="1.3"/>
<line x1="344.61" y1="444.50" x2="347.61" y2="444.50" stroke="#0000ff" stroke-width="1"/>
<line x1="344.61" y1="458.50" x2="347.61" y2="458.50" stroke="#0000ff" stroke-width="1"/>
<path d="M346.11,448.45 L349.21,453.53 L343.01,453.53 Z" fill="#0000ff"/>
<line x1="358.64" y1="428.30" x2="358.64" y2="442.30" stroke="#0000ff" stroke-width="1.3"/>
<line x1="357.14" y1="428.30" x2="360.14" y2="428.30" stroke="#0000ff" stroke-width="1"/>
<line x1="357.14" y1="442.30" x2="360.14" y2="442.30" stroke="#0000ff" stroke-width="1"/>
<path d="M358.64,432.25 L361.74,437.33 L355.54,437.33 Z" fill="#0000ff"/>
<line x1="95.61" y1="362.90" x2="95.61" y2="367.90" stroke="#ff0000" stroke-width="1" stroke-dasharray="1.4,0.9"/>
<path d="M95.61,362.10 L97.81,365.40 L95.61,368.70 L93.41,365.40 Z" fill="#ff0000"/>
<line x1="108.14" y1="414.30" x2="108.14" y2="420.30" stroke="#ff0000" stroke-width="1" stroke-dasharray="1.4,0.9"/>
<path d="M108.14,414.00 L110.34,417.30 L108.14,420.60 L105.94,417.30 Z" fill="#ff0000"/>
<line x1="120.66" y1="426.30" x2="120.66" y2="435.70" stroke="#ff0000" stroke-width="1" stroke-dasharray="1.4,0.9"/>
<path d="M120.66,427.70 L122.86,431.00 L120.66,434.30 L118.46,431.00 Z" fill="#ff0000"/>
<line x1="133.19" y1="430.80" x2="133.19" y2="440.20" stroke="#ff0000" stroke-width="1" stroke-dasharray="1.4,0.9"/>
<path d="M133.19,432.20 L135.39,435.50 L133.19,438.80 L130.99,435.50 Z" fill="#ff0000"/>
<line x1="145.71" y1="440.30" x2="145.71" y2="450.30" stroke="#ff0000" stroke-width="1" stroke-dasharray="1.4,0.9"/>
<path d="M145.71,442.00 L147.91,445.30 L145.71,448.60 L143.51,445.30 Z" fill="#ff0000"/>
<line x1="158.24" y1="423.75" x2="158.24" y2="433.75" stroke="#ff0000" stroke-width="1" stroke-dasharray="1.4,0.9"/>
<path d="M158.24,425.45 L160.44,428.75 L158.24,432.05 L156.04,428.75 Z" fill="#ff0000"/>
<line x1="170.76" y1="420.80" x2="170.76" y2="431.40" stroke="#ff0000" stroke-width="1" stroke-dasharray="1.4,0.9"/>
<path d="M170.76,422.80 L172.96,426.10 L170.76,429.40 L168.56,426.10 Z" fill="#ff0000"/>
<line x1="183.29" y1="415.20" x2="183.29" y2="426.80" stroke="#ff0000" stroke-width="1" stroke-dasharray="1.4,0.9"/>
<path d="M183.29,417.70 L185.49,421.00 L183.29,424.30 L181.09,421.00 Z" fill="#ff0000"/>
<line x1="195.81" y1="394.40" x2="195.81" y2="403.80" stroke="#ff0000" stroke-width="1" stroke-dasharray="1.4,0.9"/>
<path d="M195.81,395.80 L198.01,399.10 L195.81,402.40 L193.61,399.10 Z" fill="#ff0000"/>
<line x1="208.34" y1="395.60" x2="208.34" y2="408.80" stroke="#ff0000" stroke-width="1" stroke-dasharray="1.4,0.9"/>
<path d="M208.34,398.90 L210.54,402.20 L208.34,405.50 L206.14,402.20 Z" fill="#ff0000"/>
<line x1="220.86" y1="398.85" x2="220.86" y2="413.65" stroke="#ff0000" stroke-width="1" stroke-dasharray="1.4,0.9"/>
<path d="M220.86,402.95 L223.06,406.25 L220.86,409.55 L218.66,406.25 Z" fill="#ff0000"/>
<line x1="233.39" y1="375.30" x2="233.39" y2="391.70" stroke="#ff0000" stroke-width="1" stroke-dasharray="1.4,0.9"/>
<path d="M233.39,380.20 L235.59,383.50 L233.39,386.80 L231.19,383.50 Z" fill="#ff0000"/>
<line x1="245.91" y1="379.80" x2="245.91" y2="397.00" stroke="#ff0000" stroke-width="1" stroke-dasharray="1.4,0.9"/>
<path d="M245.91,385.10 L248.11,388.40 L245.91,391.70 L243.71,388.40 Z" fill="#ff0000"/>
<line x1="258.44" y1="378.00" x2="258.44" y2="396.80" stroke="#ff0000" stroke-width="1" stroke-dasharray="1.4,0.9"/>
<path d="M258.44,384.10 L260.64,387.40 L258.44,390.70 L256.24,387.40 Z" fill="#ff0000"/>
<line x1="270.96" y1="389.00" x2="270.96" y2="409.00" stroke="#ff0000" stroke-width="1" stroke-dasharray="1.4,0.9"/>
<path d="M270.96,395.70 L273.16,399.00 L270.96,402.30 L268.76,399.00 Z" fill="#ff0000"/>
<line x1="283.49" y1="389.00" x2="283.49" y2="409.00" stroke="#ff0000" stroke-width="1" stroke-dasharray="1.4,0.9"/>
<path d="M283.49,395.70 L285.69,399.00 L283.49,402.30 L281.29,399.00 Z" fill="#ff0000"/>
<line x1="296.01" y1="398.10" x2="296.01" y2="421.30" stroke="#ff0000" stroke-width="1" stroke-dasharray="1.4,0.9"/>
<path d="M296.01,406.40 L298.21,409.70 L296.01,413.00 L293.81,409.70 Z" fill="#ff0000"/>
<line x1="308.54" y1="410.30" x2="308.54" y2="434.70" stroke="#ff0000" stroke-width="1" stroke-dasharray="1.4,0.9"/>
<path d="M308.54,419.20 L310.74,422.50 L308.54,425.80 L306.34,422.50 Z" fill="#ff0000"/>
<line x1="321.06" y1="371.50" x2="321.06" y2="395.50" stroke="#ff0000" stroke-width="1" stroke-dasharray="1.4,0.9"/>
<path d="M321.06,380.20 L323.26,383.50 L321.06,386.80 L318.86,383.50 Z" fill="#ff0000"/>
<line x1="333.59" y1="404.60" x2="333.59" y2="433.40" stroke="#ff0000" stroke-width="1" stroke-dasharray="1.4,0.9"/>
<path d="M333.59,415.70 L335.79,419.00 L333.59,422.30 L331.39,419.00 Z" fill="#ff0000"/>
<line x1="346.11" y1="387.90" x2="346.11" y2="418.50" stroke="#ff0000" stroke-width="1" stroke-dasharray="1.4,0.9"/>
<path d="M346.11,399.90 L348.31,403.20 L346.11,406.50 L343.91,403.20 Z" fill="#ff0000"/>
<line x1="358.64" y1="382.60" x2="358.64" y2="413.80" stroke="#ff0000" stroke-width="1" stroke-dasharray="1.4,0.9"/>
<path d="M358.64,394.90 L360.84,398.20 L358.64,401.50 L356.44,398.20 Z" fill="#ff0000"/>
</g>
<path d="M45.50,17.50 H370.90 V477.90 H45.50 Z M45.50,317.40 H370.90" fill="none" stroke="#000" stroke-width="1.3"/>
<text x="51.50" y="14.20" font-size="12.2" text-anchor="start" fill="#000">13000 GeV pp</text>
<text x="366.00" y="14.10" font-size="12.3" text-anchor="end" fill="#000">Z+Jet</text>
<text x="81.5" y="41.8" font-size="12">Transmax region, 60 &lt; p<tspan font-size="8.3" dy="-5" dx="-2.5">Z</tspan><tspan font-size="8.3" dy="11" dx="-5">T</tspan><tspan dy="-6"> &lt; 80 [GeV], high thrust</tspan></text>
<text x="40.50" y="49.08" font-size="11.3" text-anchor="end" fill="#000">10</text>
<text x="40.50" y="109.80" font-size="11.3" text-anchor="end" fill="#000">1</text>
<text x="40.5" y="170.62" font-size="11.3" text-anchor="end">10<tspan font-size="7.5" dy="-4.0">&#8722;1</tspan></text>
<text x="40.5" y="231.34" font-size="11.3" text-anchor="end">10<tspan font-size="7.5" dy="-4.0">&#8722;2</tspan></text>
<text x="40.5" y="292.06" font-size="11.3" text-anchor="end">10<tspan font-size="7.5" dy="-4.0">&#8722;3</tspan></text>
<text x="38.50" y="341.30" font-size="11.3" text-anchor="end" fill="#000">2</text>
<text x="373.30" y="341.30" font-size="11.3" text-anchor="start" fill="#000">2</text>
<text x="38.50" y="401.70" font-size="11.3" text-anchor="end" fill="#000">1</text>
<text x="373.30" y="401.70" font-size="11.3" text-anchor="start" fill="#000">1</text>
<text x="38.50" y="462.00" font-size="11.3" text-anchor="end" fill="#000">0.5</text>
<text x="373.30" y="462.00" font-size="11.3" text-anchor="start" fill="#000">0.5</text>
<text x="120.86" y="488.90" font-size="11.8" text-anchor="middle" fill="#000">1</text>
<text x="246.11" y="488.90" font-size="11.8" text-anchor="middle" fill="#000">2</text>
<text x="371.36" y="488.90" font-size="11.8" text-anchor="middle" fill="#000">3</text>
<text x="290" y="500.5" font-size="12.4">Mean p<tspan font-size="9.2" dy="6.5" dx="-0.6">T</tspan><tspan dy="-6.5" dx="-0.3">/d&#951;</tspan></text>
<text x="357.0" y="500.5" font-size="12.4" textLength="11.6" lengthAdjust="spacingAndGlyphs">d&#981;</text>
<text transform="translate(15,166.2) rotate(-90)" font-size="11.85">1/N<tspan font-size="7.6" dy="3">ev</tspan><tspan dy="-3"> dN</tspan><tspan font-size="7.6" dy="3">ev</tspan><tspan dy="-3">/d mean p</tspan><tspan font-size="8.2" dy="3.5">T</tspan><tspan dy="-3.5"> [GeV]</tspan><tspan font-size="8.5" dy="-6.2" dx="0.6">1</tspan></text>
<text transform="translate(18,427.3) rotate(-90)" font-size="9">Ratio to ATLAS</text>
<text transform="translate(380.3,127.6) rotate(-90)" font-size="9.5" fill="#8e8e8e">Rivet 4.1.0, &#8805; 300k events</text>
<text transform="translate(380.6,313.5) rotate(-90)" font-size="9.5" fill="#8e8e8e">mcplots.cern.ch [arXiv:2401.10621]</text>
<rect x="73.60" y="240.90" width="5.60" height="5.60" fill="#000"/>
<text x="94.40" y="246.50" font-size="9.4" text-anchor="start" fill="#000">ATLAS</text>
<line x1="64.3" y1="256.1" x2="88.7" y2="256.1" stroke="#0000ff" stroke-width="1.05"/>
<path d="M76.50,253.35 L79.60,258.43 L73.40,258.43 Z" fill="#0000ff"/>
<text x="94.40" y="259.10" font-size="9.4" text-anchor="start" fill="#000">Pythia 8.315 default</text>
<line x1="64.3" y1="269.1" x2="88.7" y2="269.1" stroke="#ff0000" stroke-width="1" stroke-dasharray="1.4,0.9"/>
<path d="M76.50,265.90 L78.70,269.20 L76.50,272.50 L74.30,269.20 Z" fill="#ff0000"/>
<text x="94.40" y="272.00" font-size="9.4" text-anchor="start" fill="#000">Sherpa 1.4.5 default</text>
<text x="163.00" y="302.20" font-size="8.0" text-anchor="start" fill="#999">(ATLAS_2019_I1736531)</text>
</svg></body></html>
